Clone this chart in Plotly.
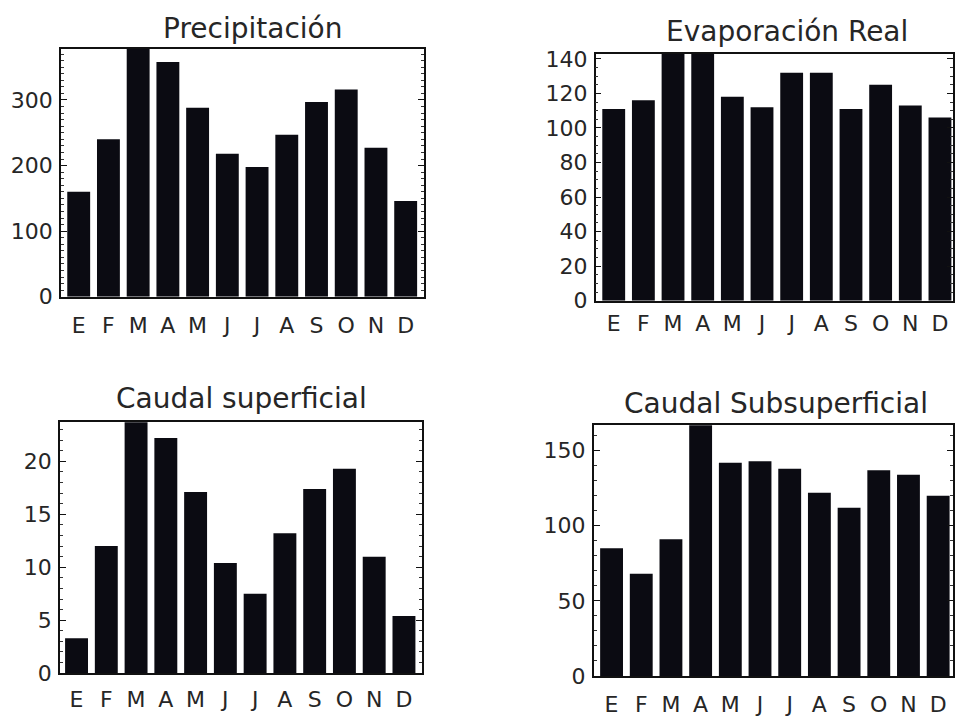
import plotly.graph_objects as go

months = ["E", "F", "M", "A", "M", "J", "J", "A", "S", "O", "N", "D"]

precipitacion = [160, 240, 385, 358, 288, 218, 198, 247, 297, 316, 227, 146]
evaporacion = [111, 116, 146, 146, 118, 112, 132, 132, 111, 125, 113, 106]
caudal_sup = [3.3, 12.0, 24.5, 22.2, 17.1, 10.4, 7.5, 13.2, 17.4, 19.3, 11.0, 5.4]
caudal_subsup = [85, 68, 91, 172, 142, 143, 138, 122, 112, 137, 134, 120]

titles = ["Precipitación", "Evaporación Real", "Caudal superficial", "Caudal Subsuperficial"]
series = [precipitacion, evaporacion, caudal_sup, caudal_subsup]

W, H = 955, 725
# plot boxes in pixels: (left, right, top, bottom)
boxes = [(61, 425, 43, 298), (597, 955, 48, 302), (60, 423, 427, 685), (595, 955, 430, 688)]
xranges = [[-0.6, 11.62], [-0.606, 11.44], [-0.56, 11.61], [-0.6, 11.5]]
yranges = [[0, 378], [0, 143], [0, 23.7], [0, 167]]
ydticks = [100, 20, 5, 50]
yminor = [10, 5, 1, 10]
title_pos = [(253, 22), (789, 25), (242, 403), (778, 408)]
xlab_standoff = [8, 2, 6, 8]

FONT = "DejaVu Sans, Liberation Sans, Arial, sans-serif"
BAR = "#0b0b12"
TXT = "#262626"

fig = go.Figure()
idx = list(range(len(months)))
layout = dict(width=W, height=H, margin=dict(l=0, r=0, t=0, b=0),
              paper_bgcolor="white", plot_bgcolor="white", showlegend=False,
              bargap=0.23)
annotations = []
for i, (vals, box) in enumerate(zip(series, boxes)):
    n = "" if i == 0 else str(i + 1)
    fig.add_trace(go.Bar(x=idx, y=vals, marker=dict(color=BAR, line=dict(width=0)),
                         xaxis="x" + n, yaxis="y" + n))
    l, r, t, b = box
    layout["xaxis" + n] = dict(domain=[l / W, r / W], range=xranges[i], anchor="y" + n,
                               tickvals=idx, ticktext=months, ticks="",
                               showline=True, linecolor="#111", linewidth=1.5, mirror=True,
                               showgrid=False, zeroline=False,
                               tickfont=dict(family=FONT, size=22, color=TXT),
                               ticklabelstandoff=xlab_standoff[i])
    layout["yaxis" + n] = dict(domain=[1 - b / H, 1 - t / H], range=yranges[i], anchor="x" + n,
                               dtick=ydticks[i], tick0=0, ticks="inside", ticklen=6, tickwidth=1,
                               tickcolor="#111",
                               minor=dict(dtick=yminor[i], ticks="inside", ticklen=3,
                                          tickcolor="#333", tickwidth=1),
                               showline=True, linecolor="#111", linewidth=1.5, mirror="ticks",
                               showgrid=False, zeroline=False,
                               tickfont=dict(family=FONT, size=22, color=TXT),
                               ticklabelstandoff=2)
    tx, ty = title_pos[i]
    annotations.append(dict(text=titles[i], x=tx / W, y=1 - ty / H, xref="paper", yref="paper",
                            xanchor="center", yanchor="middle", showarrow=False,
                            font=dict(family=FONT, size=28, color=TXT)))
layout["annotations"] = annotations
fig.update_layout(**layout)
fig.write_html("out.html")
